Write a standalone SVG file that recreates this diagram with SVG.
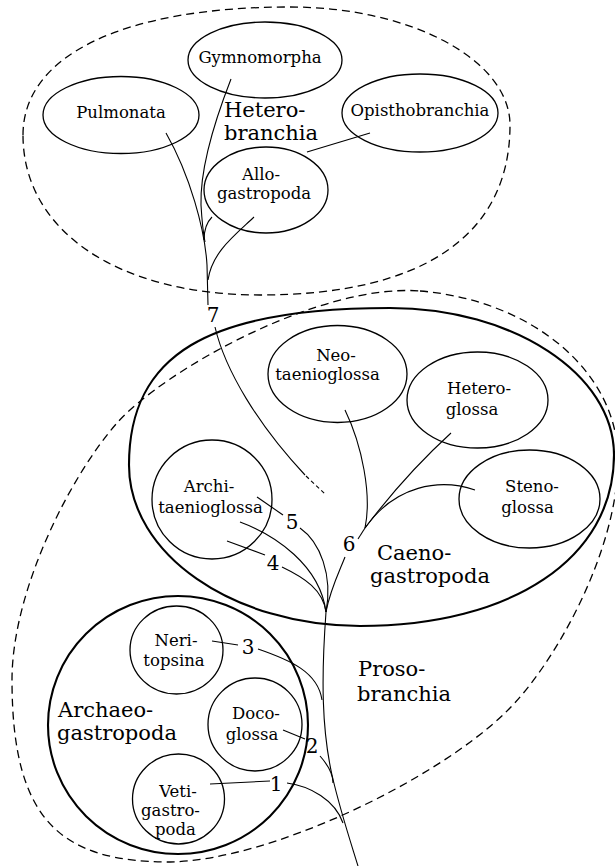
<svg xmlns="http://www.w3.org/2000/svg" width="615" height="866" viewBox="0 0 615 866">
<defs>
<style>
.bg{fill:#fff}
.n{fill:none;stroke:#000;stroke-width:1.3}
.g{fill:none;stroke:#000;stroke-width:2.1}
.d{fill:none;stroke:#000;stroke-width:1.3;stroke-dasharray:8 5}
.c{fill:none;stroke:#000;stroke-width:1.1}
.cd{fill:none;stroke:#000;stroke-width:1.1;stroke-dasharray:4 3}
text{font-family:"DejaVu Serif","Liberation Serif",serif;fill:#000}
.s{font-size:16.5px;text-anchor:middle}
.L{font-size:21px}
.num{font-size:20px;text-anchor:middle}
</style>
</defs>
<rect class="bg" x="0" y="0" width="615" height="866"/>

<g id="group-heterobranchia">
<path class="d" d="M23,135 C23,55 124,7 290,7 C411,7 510,60 510,125 C510,236 422,295 260,295 C118,295 23,231 23,135 Z"/>
<text class="L" x="224" y="117">Hetero-</text>
<text class="L" x="224" y="140">branchia</text>
</g>
<g id="group-prosobranchia">
<path class="d" d="M420,291 C530,300 618,370 618,460 C618,550 555,665 505,713 C433,782 270,860 170,862 C60,862 12,820 12,680 C12,590 71,475 117,423 C163,371 320,283 420,291 Z"/>
<text class="L" x="358" y="676">Proso-</text>
<text class="L" x="357" y="701">branchia</text>
</g>
<g id="group-caenogastropoda">
<path class="g" d="M390,308 C513,308 614,374 614,455 C614,558 512,626 360,626 C233,626 129,554 129,465 C129,355 207,308 390,308 Z"/>
<text class="L" x="377" y="560">Caeno-</text>
<text class="L" x="370" y="583">gastropoda</text>
</g>
<g id="group-archaeogastropoda">
<ellipse class="g" cx="178" cy="725" rx="130" ry="129"/>
<text class="L" x="58" y="717">Archaeo-</text>
<text class="L" x="57" y="740">gastropoda</text>
</g>

<g id="node-gymnomorpha"><ellipse class="n" cx="265" cy="60" rx="77" ry="38"/><text class="s" x="260" y="63">Gymnomorpha</text></g>
<g id="node-pulmonata"><ellipse class="n" cx="121" cy="115" rx="78" ry="38.5"/><text class="s" x="121" y="118">Pulmonata</text></g>
<g id="node-opisthobranchia"><ellipse class="n" cx="420" cy="113" rx="78" ry="39"/><text class="s" x="420" y="116">Opisthobranchia</text></g>
<g id="node-allogastropoda"><ellipse class="n" cx="266" cy="190" rx="62" ry="43"/><text class="s" x="261" y="180">Allo-</text><text class="s" x="264" y="199">gastropoda</text></g>

<g id="node-neotaenioglossa"><ellipse class="n" cx="337.5" cy="374" rx="69.5" ry="48.5"/><text class="s" x="336" y="361">Neo-</text><text class="s" x="327.5" y="380">taenioglossa</text></g>
<g id="node-heteroglossa"><ellipse class="n" cx="477.5" cy="400" rx="70.5" ry="48"/><text class="s" x="479" y="394">Hetero-</text><text class="s" x="472" y="415">glossa</text></g>
<g id="node-stenoglossa"><ellipse class="n" cx="529.5" cy="499" rx="70.5" ry="49"/><text class="s" x="532" y="492">Steno-</text><text class="s" x="527.5" y="513">glossa</text></g>
<g id="node-architaenioglossa"><ellipse class="n" cx="212" cy="499.5" rx="60" ry="59.5"/><text class="s" x="209" y="492">Archi-</text><text class="s" x="210.5" y="513">taenioglossa</text></g>

<g id="node-neritopsina"><ellipse class="n" cx="176.5" cy="650" rx="46.5" ry="44"/><text class="s" x="176" y="646">Neri-</text><text class="s" x="174" y="666">topsina</text></g>
<g id="node-docoglossa"><ellipse class="n" cx="255" cy="724.5" rx="47" ry="46.5"/><text class="s" x="256" y="719">Doco-</text><text class="s" x="252" y="740">glossa</text></g>
<g id="node-vetigastropoda"><ellipse class="n" cx="178.5" cy="799" rx="46" ry="45"/><text class="s" x="178" y="797">Veti-</text><text class="s" x="170.5" y="816">gastro-</text><text class="s" x="175.5" y="835">poda</text></g>

<g id="connectors">
<path class="c" d="M166,133 C190,175 205,230 207,265 L208,305"/>
<path class="c" d="M231,79 C215,120 200,170 201,205 C202,222 203,232 205,242"/>
<path class="c" d="M212,217 C207,222 204,230 204,240"/>
<path class="c" d="M254,217 C235,235 212,252 208,280"/>
<path class="c" d="M370,133 L307,152"/>
<path class="c" d="M215,327 C225,370 258,425 305,475"/>
<path class="cd" d="M306,476 L325,494"/>
<path class="c" d="M257,497 L283,515"/>
<path class="c" d="M300,528 C320,542 333,575 326,612"/>
<path class="c" d="M240,522 C275,535 320,565 326,612"/>
<path class="c" d="M227,541 L265,555"/>
<path class="c" d="M282,567 C305,578 323,590 326,612"/>
<path class="c" d="M326,612 C330,590 340,570 345,557"/>
<path class="c" d="M358,539 L365,528"/>
<path class="c" d="M345,410 C362,445 372,495 365,528"/>
<path class="c" d="M451,433 Q405,475 365,528"/>
<path class="c" d="M475,490 C440,478 395,485 365,528"/>
<path class="c" d="M326,612 C321,680 322,730 332,775 C340,810 350,840 358,866"/>
<path class="c" d="M212,641 L238,645"/>
<path class="c" d="M258,649 C290,660 318,672 322,700"/>
<path class="c" d="M283,730 L305,739"/>
<path class="c" d="M320,756 C328,765 333,775 333,783"/>
<path class="c" d="M210,784 L270,781"/>
<path class="c" d="M287,783 C310,786 335,800 343,823"/>
<text class="num" x="213" y="322">7</text>
<text class="num" x="292" y="529">5</text>
<text class="num" x="273" y="570">4</text>
<text class="num" x="349" y="551">6</text>
<text class="num" x="248" y="654">3</text>
<text class="num" x="312" y="753">2</text>
<text class="num" x="276" y="791">1</text>
</g>
</svg>
